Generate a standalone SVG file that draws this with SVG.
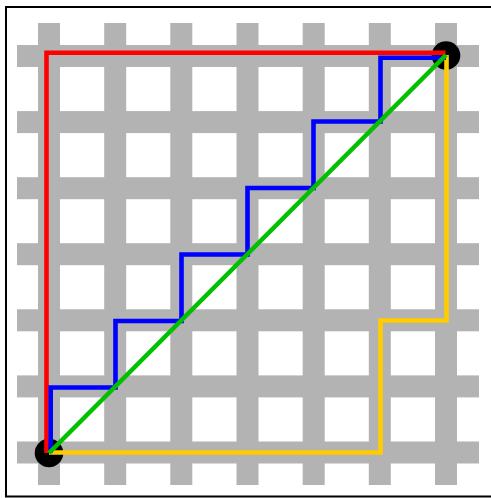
<svg xmlns="http://www.w3.org/2000/svg" width="491" height="498" viewBox="0 0 491 498">
<style>
.bar{fill:#b3b3b3}
.path{fill:none;stroke-width:4.6;stroke-linejoin:miter;stroke-linecap:butt}
.frame{stroke:#000;stroke-width:2;fill:none}
</style>
<rect width="491" height="498" fill="#fff"/>
<g id="frame">
<path class="frame" d="M6 497 V7 H491 M5 496.5 H491"/>
</g>
<g id="grid">
<rect class="bar" x="38" y="23" width="22" height="462"/>
<rect class="bar" x="104.2" y="23" width="22" height="462"/>
<rect class="bar" x="170.3" y="23" width="22" height="462"/>
<rect class="bar" x="236.5" y="23" width="22" height="462"/>
<rect class="bar" x="302.7" y="23" width="22" height="462"/>
<rect class="bar" x="368.8" y="23" width="22" height="462"/>
<rect class="bar" x="435" y="23" width="22" height="462"/>
<rect class="bar" x="17" y="45" width="462" height="22"/>
<rect class="bar" x="17" y="111.1" width="462" height="22"/>
<rect class="bar" x="17" y="177.2" width="462" height="22"/>
<rect class="bar" x="17" y="243.2" width="462" height="22"/>
<rect class="bar" x="17" y="309.3" width="462" height="22"/>
<rect class="bar" x="17" y="375.4" width="462" height="22"/>
<rect class="bar" x="17" y="441.5" width="462" height="22"/>
</g>
<g id="start"><circle cx="49" cy="453" r="14.3" fill="#000"/></g>
<g id="end"><circle cx="446" cy="55.5" r="14.3" fill="#000"/></g>
<g id="connectors">
<path class="path" stroke="#ff0000" d="M46.5 453 V52.7 H445.5"/>
<path class="path" stroke="#ffcc00" d="M49 452.5 H380.5 V320.5 H446.5 V55"/>
<path class="path" stroke="#0000ff" d="M50.7 453 V387.5 H115.5 V321 H181.5 V254.5 H247.5 V188 H313.5 V121.5 H380.5 V57.7 H446"/>
<path class="path" stroke="#00c000" d="M49 453 L446 55"/>
</g>
</svg>
